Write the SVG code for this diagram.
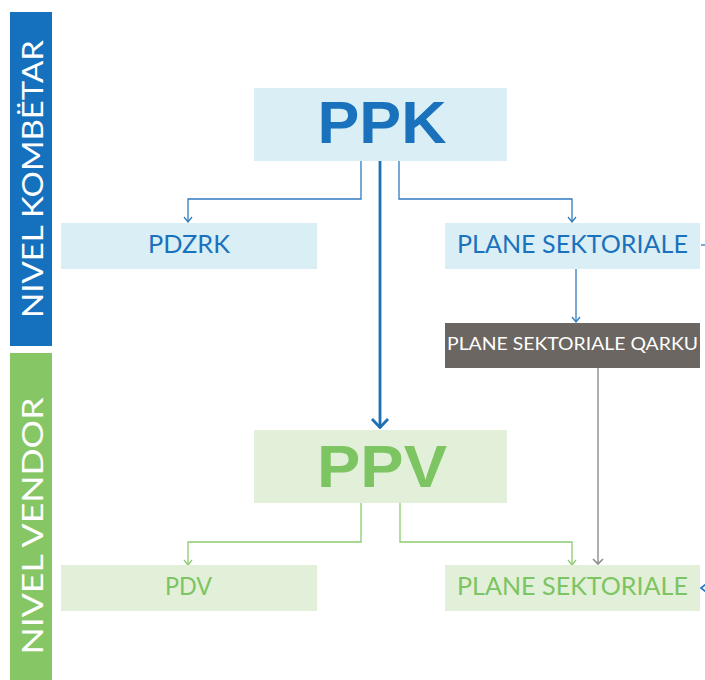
<svg xmlns="http://www.w3.org/2000/svg" width="705" height="680" viewBox="0 0 705 680">
<defs>
<style>
.lb{fill:#DAEEF6}
.lg{fill:#E2F0DA}
.tb{fill:#1A72BD;font-family:Lato,"Open Sans",sans-serif}
.tg{fill:#7DC462;font-family:Lato,"Open Sans",sans-serif}
.big{font-family:"Liberation Sans",Arial,sans-serif;font-weight:bold;font-size:60px;text-anchor:middle}
.lbl{font-size:25px;text-anchor:middle}
.cb{fill:none;stroke:#2E7BC0;stroke-width:1.3}
.cg{fill:none;stroke:#8DCB70;stroke-width:1.3}
.cy{fill:none;stroke:#9A9A9A;stroke-width:1.6}
.side{fill:#fff;font-family:Lato,"Open Sans",sans-serif;font-size:28px;text-anchor:middle}
</style>
<marker id="ab" markerWidth="10" markerHeight="7" refX="5" refY="6" markerUnits="userSpaceOnUse" viewBox="0 0 10 7"><path d="M1,1 L5,6 L9,1" fill="none" stroke="#2E7BC0" stroke-width="1.3"/></marker>
<marker id="ag" markerWidth="10" markerHeight="7" refX="5" refY="6" markerUnits="userSpaceOnUse" viewBox="0 0 10 7"><path d="M1,1 L5,6 L9,1" fill="none" stroke="#8DCB70" stroke-width="1.3"/></marker>
<marker id="ay" markerWidth="12" markerHeight="7" refX="6" refY="6" markerUnits="userSpaceOnUse" viewBox="0 0 12 7"><path d="M1,1 L6,6 L11,1" fill="none" stroke="#8A8A8A" stroke-width="1.6"/></marker>
<marker id="abig" markerWidth="20" markerHeight="12" refX="10" refY="11" markerUnits="userSpaceOnUse" viewBox="0 0 20 12"><path d="M2,2 L10,10.5 L18,2" fill="none" stroke="#1F6FB5" stroke-width="2.8"/></marker>
</defs>
<rect width="705" height="680" fill="#fff"/>
<g id="bar-kombetar">
<rect x="10" y="12" width="42" height="334" fill="#1570BE"/>
<text class="side" transform="translate(43,179) rotate(-90)" textLength="278" lengthAdjust="spacingAndGlyphs">NIVEL KOMBËTAR</text>
</g>
<g id="bar-vendor">
<rect x="10" y="353" width="42" height="327" fill="#86C665"/>
<text class="side" transform="translate(43,526) rotate(-90)" textLength="257" lengthAdjust="spacingAndGlyphs">NIVEL VENDOR</text>
</g>
<g id="connectors">
<polyline class="cb" points="361,161 361,199 188,199 188,222" marker-end="url(#ab)"/>
<polyline class="cb" points="399,161 399,199 572,199 572,222" marker-end="url(#ab)"/>
<line class="cb" x1="576" y1="269" x2="576" y2="322" marker-end="url(#ab)"/>
<line x1="380" y1="161" x2="380" y2="428" stroke="#1F6FB5" stroke-width="2.8" marker-end="url(#abig)"/>
<line class="cb" x1="701" y1="245" x2="705" y2="245"/>
<line class="cy" x1="598" y1="368" x2="598" y2="564" marker-end="url(#ay)"/>
<polyline class="cg" points="361,503 361,542 188,542 188,565" marker-end="url(#ag)"/>
<polyline class="cg" points="400,503 400,542 572,542 572,565" marker-end="url(#ag)"/>
<path d="M706,584 L701,588 L706,592" fill="none" stroke="#2E7BC0" stroke-width="1.8"/>
</g>
<g id="ppk">
<rect class="lb" x="254" y="88" width="253" height="73"/>
<text class="tb big" x="382" y="143" textLength="129" lengthAdjust="spacingAndGlyphs">PPK</text>
</g>
<g id="pdzrk">
<rect class="lb" x="61" y="223" width="256" height="46"/>
<text class="tb lbl" x="189" y="253" textLength="82" lengthAdjust="spacingAndGlyphs">PDZRK</text>
</g>
<g id="plane-sektoriale-k">
<rect class="lb" x="445" y="223" width="255" height="46"/>
<text class="tb lbl" x="572.5" y="253" textLength="231" lengthAdjust="spacingAndGlyphs">PLANE SEKTORIALE</text>
</g>
<g id="plane-sektoriale-qarku">
<rect x="445" y="323" width="255" height="45" fill="#6B6661"/>
<text x="572.5" y="350" fill="#fff" font-family="Lato,'Open Sans',sans-serif" font-size="17" text-anchor="middle" textLength="251" lengthAdjust="spacingAndGlyphs">PLANE SEKTORIALE QARKU</text>
</g>
<g id="ppv">
<rect class="lg" x="254" y="430" width="253" height="73"/>
<text class="tg big" x="382" y="487" textLength="130" lengthAdjust="spacingAndGlyphs">PPV</text>
</g>
<g id="pdv">
<rect class="lg" x="61" y="565" width="256" height="46"/>
<text class="tg lbl" x="188.5" y="595" textLength="47" lengthAdjust="spacingAndGlyphs">PDV</text>
</g>
<g id="plane-sektoriale-v">
<rect class="lg" x="445" y="565" width="255" height="46"/>
<text class="tg lbl" x="572.5" y="595" textLength="231" lengthAdjust="spacingAndGlyphs">PLANE SEKTORIALE</text>
</g>
</svg>
